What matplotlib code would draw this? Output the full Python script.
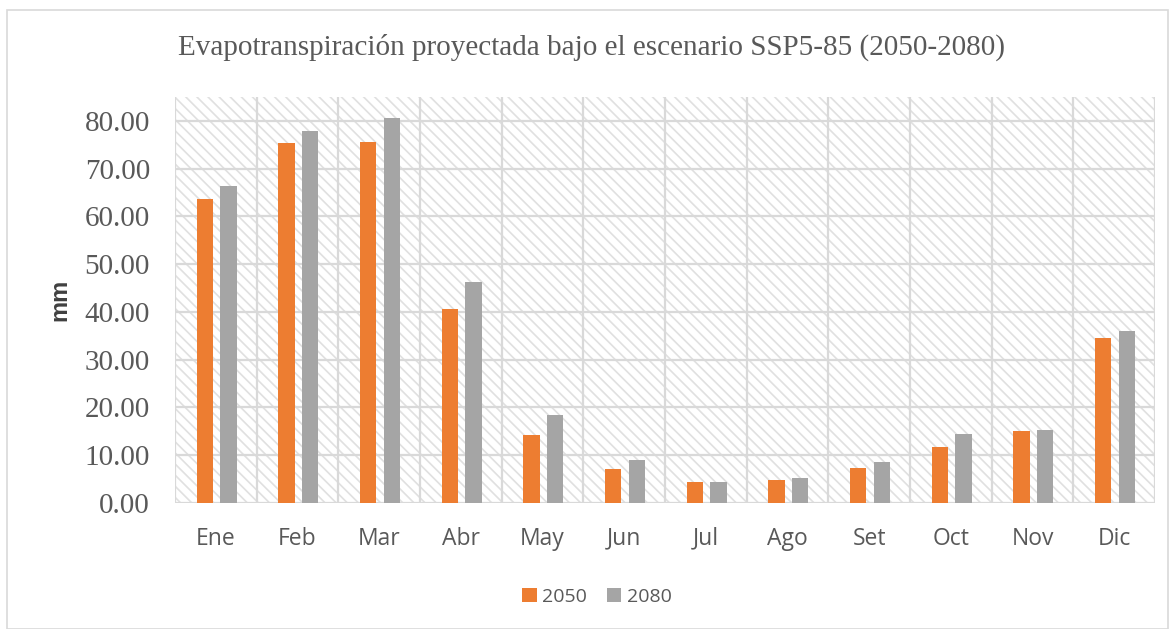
import matplotlib
matplotlib.use("Agg")
import matplotlib.pyplot as plt
import numpy as np
from matplotlib.patches import Rectangle

months = ["Ene", "Feb", "Mar", "Abr", "May", "Jun", "Jul", "Ago", "Set", "Oct", "Nov", "Dic"]
s2050 = [63.7, 75.4, 75.6, 40.6, 14.2, 7.1, 4.4, 4.8, 7.3, 11.7, 15.1, 34.6]
s2080 = [66.4, 77.9, 80.6, 46.3, 18.4, 9.0, 4.4, 5.2, 8.6, 14.5, 15.3, 36.0]
yticks = [0, 10, 20, 30, 40, 50, 60, 70, 80]

plt.rcParams['hatch.linewidth'] = 1.2
fig = plt.figure(figsize=(11.75, 6.29), dpi=100)
# outer border
fig.patches.append(Rectangle((7/1175, 0.0), 1 - 14/1175, 1 - 10/629, transform=fig.transFigure,
                             fill=False, edgecolor='#d9d9d9', lw=1.2))
ax = fig.add_axes([175/1175, 1 - 503/629, (1155-175)/1175, (503-97)/629])
ax.set_xlim(-0.5, 11.5)
ax.set_ylim(0, 85)

ax.add_patch(Rectangle((0, 0), 1, 1, transform=ax.transAxes, facecolor='white',
                       edgecolor='#e0e0e0', hatch='\\\\\\', lw=0, zorder=0))

x = np.arange(len(months))
w = 0.2
ax.bar(x - 0.135, s2050, w, color='#ed7d31', label='2050', zorder=3)
ax.bar(x + 0.155, s2080, w, color='#a5a5a5', label='2080', zorder=3)

for yv in yticks:
    ax.axhline(yv, color='#d9d9d9', lw=1.6, zorder=1)
for b in np.arange(-0.5, 12.0, 1):
    ax.axvline(b, color='#d9d9d9', lw=1.6, zorder=1)
for s in ax.spines.values():
    s.set_visible(False)

ax.set_yticks(yticks)
ax.set_yticklabels([f"{v:.2f}" for v in yticks], family='Liberation Serif', fontsize=21, color='#595959')
ax.set_xticks(x)
ax.set_xticklabels(months, family='Open Sans', fontsize=16.5, color='#595959')
ax.tick_params(length=0, axis='y', pad=18)
ax.tick_params(length=0, axis='x', pad=17)
ax.set_ylabel('mm', family='Liberation Sans', fontweight='bold', fontsize=17, color='#404040')
ax.yaxis.set_label_coords((71 - 175) / (1155 - 175), 0.5)

fig.text(591/1175, 1 - 47/629, 'Evapotranspiración proyectada bajo el escenario SSP5-85 (2050-2080)',
         family='Liberation Serif', fontsize=21, color='#595959', ha='center', va='center')

leg = fig.legend(loc='center', bbox_to_anchor=(597/1175, 1 - 597/629), ncol=2, frameon=False,
                 prop={'family': 'Open Sans', 'size': 14}, handlelength=0.75, handleheight=0.75,
                 handletextpad=0.3, columnspacing=1.0)
for t in leg.get_texts():
    t.set_color('#595959')

fig.savefig('out.png', dpi=100)
